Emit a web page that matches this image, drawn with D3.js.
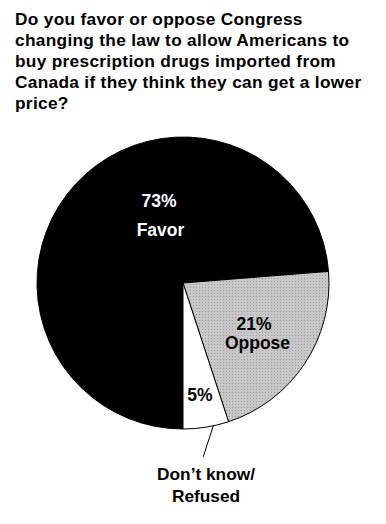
<!DOCTYPE html>
<html>
<head>
<meta charset="utf-8">
<script src="https://cdn.jsdelivr.net/npm/d3@7"></script>
<style>
  body { margin: 0; background: #fff; }
  svg { display: block; font-family: Arial, "Liberation Sans", sans-serif; font-weight: bold; }
</style>
</head>
<body>
<div id="vis"></div>
<script>

var width = 386;
var height = 524;

var titleLines = [
    'Do you favor or oppose Congress',
    'changing the law to allow Americans to',
    'buy prescription drugs imported from',
    'Canada if they think they can get a lower',
    'price?'
];

var categories = ['Favor', 'Oppose', 'Don\u2019t know/Refused'];
var values = [73, 21, 5];
var pctLabels = ['73%', '21%', '5%'];

var center = { x : 183, y : 283 };
var radius = 146;

var svg = d3.select('#vis')
    .append('svg')
    .attr('width', width)
    .attr('height', height);

// dotted grey texture like the original
var pattern = svg.append('defs').append('pattern')
    .attr('id', 'dots')
    .attr('width', 3)
    .attr('height', 3)
    .attr('patternUnits', 'userSpaceOnUse');
pattern.append('rect').attr('width', 3).attr('height', 3).attr('fill', '#c8c8c8');
pattern.append('rect').attr('x', 1).attr('y', 1).attr('width', 1).attr('height', 1).attr('fill', '#a09ca0');

var fillColor = d3.scaleOrdinal()
    .domain(categories)
    .range(['#000000', 'url(#dots)', '#ffffff']);

svg.append('text')
    .attr('x', 15)
    .attr('y', 25)
    .attr('font-size', 17.3)
    .attr('letter-spacing', 0.3)
    .attr('fill', '#000')
    .selectAll('tspan')
    .data(titleLines)
    .enter().append('tspan')
    .attr('x', 15)
    .attr('dy', function (d, i) { return i === 0 ? 0 : 21; })
    .text(function (d) { return d; });

var pie = d3.pie()
    .sort(null)
    .startAngle(Math.PI)
    .endAngle(3 * Math.PI)
    .value(function (d) { return d; });

var arc = d3.arc().innerRadius(0).outerRadius(radius);

var arcs = pie(values);

var g = svg.append('g')
    .attr('transform', 'translate(' + center.x + ',' + center.y + ')');

g.selectAll('path')
    .data(arcs)
    .enter().append('path')
    .attr('d', arc)
    .attr('fill', function (d, i) { return fillColor(categories[i]); })
    .attr('stroke', '#000')
    .attr('stroke-width', 1);

// label spots (relative to the pie center), tuned by eye
var labelPos = [
    { pct : [-24, -76], name : [-22.5, -47], color : '#fff' },
    { pct : [71, 47],   name : [74.5, 66],   color : '#000' },
    { pct : [17, 118] }
];

labelPos.slice(0, 2).forEach(function (p, i) {
    g.append('text')
        .attr('x', p.pct[0]).attr('y', p.pct[1])
        .attr('text-anchor', 'middle').attr('font-size', 17.5).attr('fill', p.color)
        .text(pctLabels[i]);
    g.append('text')
        .attr('x', p.name[0]).attr('y', p.name[1])
        .attr('text-anchor', 'middle').attr('font-size', 17.5).attr('fill', p.color)
        .text(categories[i]);
});

// Don't know - percent inside, name outside with leader line
g.append('text')
    .attr('x', labelPos[2].pct[0]).attr('y', labelPos[2].pct[1])
    .attr('text-anchor', 'middle').attr('font-size', 17.5).attr('fill', '#000')
    .text(pctLabels[2]);

var a2 = (arcs[2].startAngle + arcs[2].endAngle) / 2 - 0.05;
var p1 = [Math.sin(a2) * radius, -Math.cos(a2) * radius];
g.append('line')
    .attr('x1', p1[0]).attr('y1', p1[1])
    .attr('x2', p1[0] - 10).attr('y2', p1[1] + 31)
    .attr('stroke', '#000').attr('stroke-width', 1);

var dkLines = categories[2].split('/');
g.append('text')
    .attr('x', 23).attr('y', 197)
    .attr('text-anchor', 'middle').attr('font-size', 17.3).attr('fill', '#000')
    .text(dkLines[0] + '/');
g.append('text')
    .attr('x', 23).attr('y', 218.5)
    .attr('text-anchor', 'middle').attr('font-size', 17.3).attr('fill', '#000')
    .text(dkLines[1]);

</script>
</body>
</html>
